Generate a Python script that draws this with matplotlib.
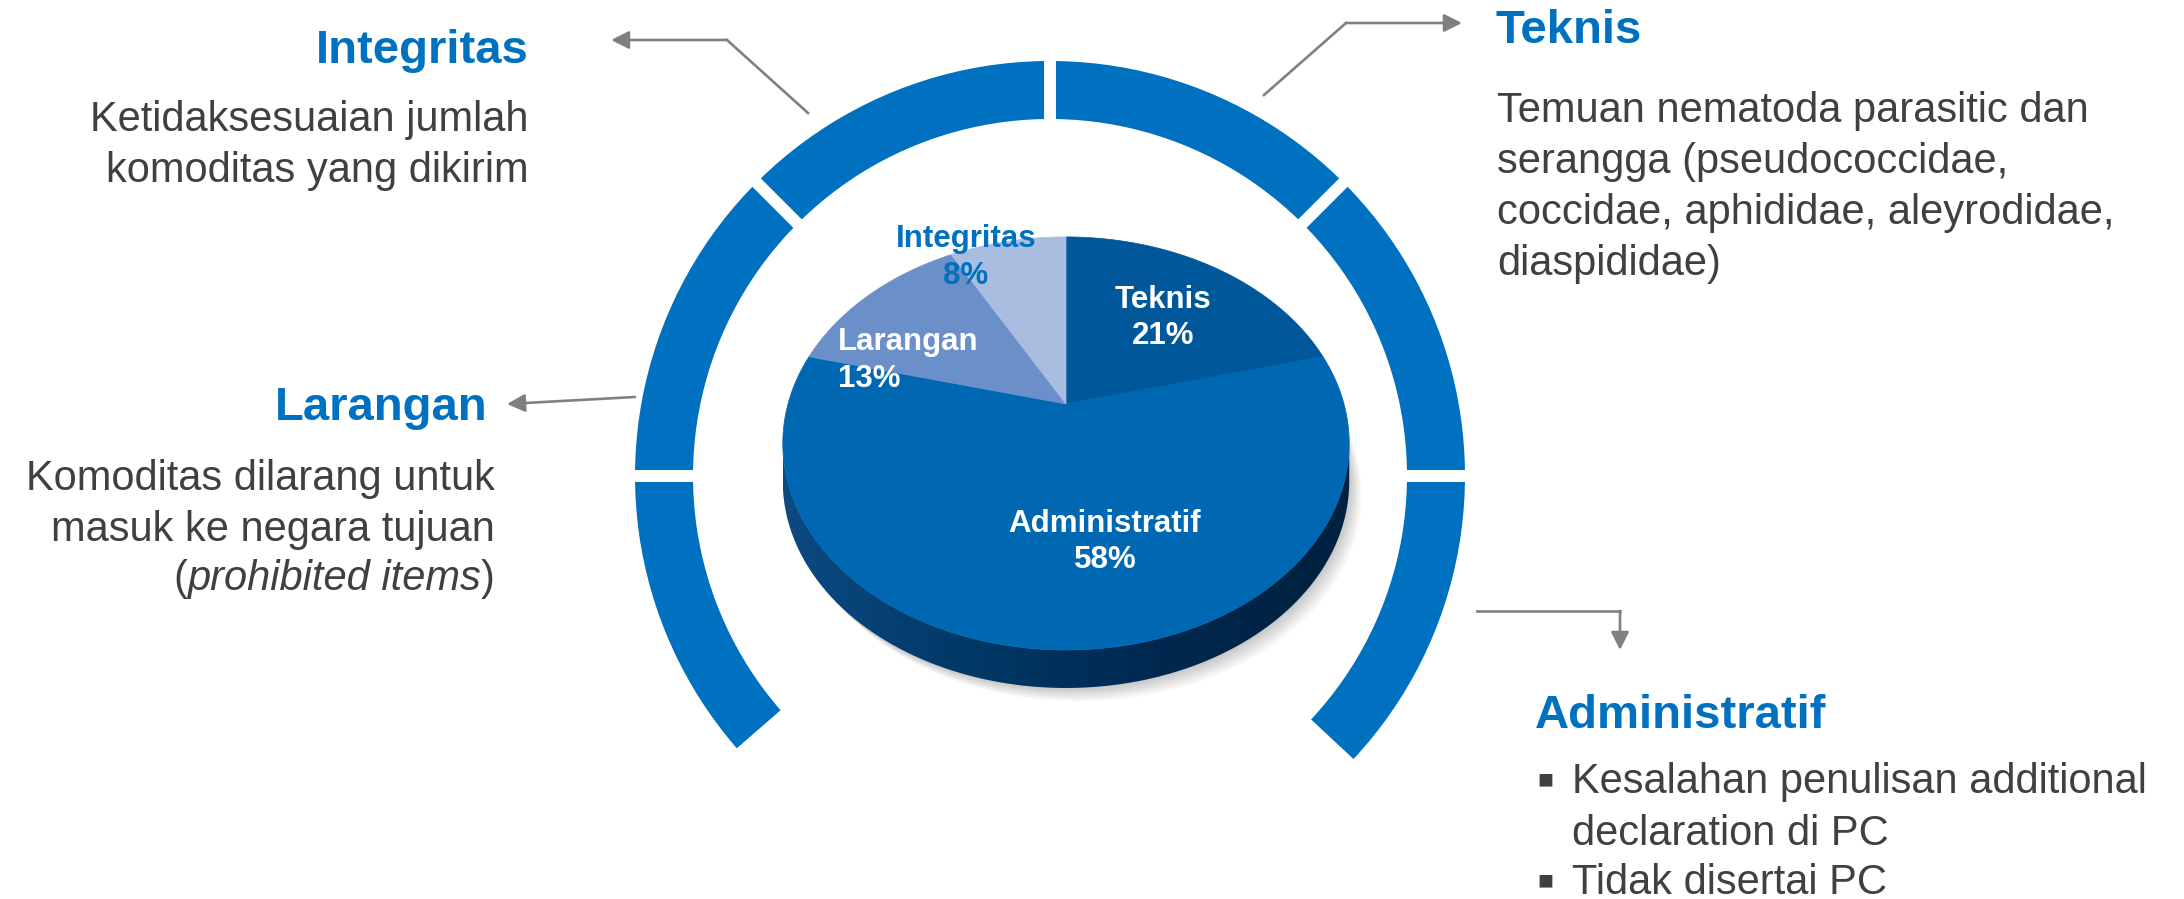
import numpy as np
import matplotlib.pyplot as plt
from matplotlib.patches import Wedge, Polygon
from matplotlib.colors import LinearSegmentedColormap

plt.rcParams['font.family'] = ['Liberation Sans', 'DejaVu Sans']

# pie data (clockwise from 12 o'clock)
categories = ['Teknis', 'Administratif', 'Larangan', 'Integritas']
shares = [21, 58, 13, 8]
slice_colors = ['#00589b', '#0067b2', '#6a8fc9', '#a9bde0']
label_colors = ['white', 'white', 'white', '#0070c0']

# side panels
titles = ['Integritas', 'Larangan', 'Teknis', 'Administratif']
integritas_text = ['Ketidaksesuaian jumlah', 'komoditas yang dikirim']
larangan_text = ['Komoditas dilarang untuk', 'masuk ke negara tujuan']
larangan_italic = 'prohibited items'
teknis_text = ['Temuan nematoda parasitic dan', 'serangga (pseudococcidae,',
               'coccidae, aphididae, aleyrodidae,', 'diaspididae)']
admin_bullets = ['Kesalahan penulisan additional', 'declaration di PC', 'Tidak disertai PC']
admin_bullet_marks = [True, False, True]

BLUE = '#0070c0'
GREY_TXT = '#404040'
ARROW = '#808080'

fig = plt.figure(figsize=(21.84, 8.99), dpi=100)
ax = fig.add_axes([0, 0, 1, 1])
ax.set_xlim(0, 2184)
ax.set_ylim(899, 0)
ax.set_autoscale_on(False)
ax.axis('off')

# ---- outer ring, cut into segments ----
rc = (1050, 476)
r_out, r_w = 415, 58
ring_from, ring_to = -43, 221          # visual angles (counter-clockwise)
ax.add_patch(Wedge(rc, r_out, -ring_to, -ring_from, width=r_w, color=BLUE, lw=0, zorder=2))
for a in [0, 45, 90, 135, 180]:
    t = np.radians(a)
    ax.plot([rc[0] + 340 * np.cos(t), rc[0] + 430 * np.cos(t)],
            [rc[1] - 340 * np.sin(t), rc[1] - 430 * np.sin(t)],
            color='white', lw=8.6, solid_capstyle='butt', zorder=3)

# ---- 3d pie ----
cx, cy = 1066, 404
A, B, k = 278, 199, 0.191
depth = 38


def proj(theta):
    th = np.radians(theta)
    u, v = np.cos(th), np.sin(th)
    d = 1 + k * v
    return cx + A * u / d, cy - B * v / d


# soft shadow
for i in range(10):
    th = np.linspace(0, 360, 200)
    x, y = proj(th)
    ax.add_patch(Polygon(np.column_stack([x + i * 1.4, y + depth + i * 1.5]),
                         closed=True, color='black', alpha=0.025, lw=0, zorder=4))

# side
th = np.linspace(191, 349, 120)
x, y = proj(th)
side = Polygon(np.column_stack([np.r_[x, x[::-1]], np.r_[y, y[::-1] + depth]]),
               closed=True, facecolor='none', edgecolor='none', zorder=5)
ax.add_patch(side)
side_cmap = LinearSegmentedColormap.from_list('side', ['#0d4a82', '#003866', '#00284f', '#00213f'])
img = ax.imshow(np.linspace(0, 1, 256)[None, :], cmap=side_cmap, aspect='auto',
                extent=(x.min(), x.max(), y.max() + depth + 2, y.min() - 2), zorder=5)
img.set_clip_path(side)

# top faces
start = 90.0
for share, col in zip(shares, slice_colors):
    sweep = 360 * share / 100
    th = np.linspace(start, start - sweep, max(int(sweep), 2) + 1)
    x, y = proj(th)
    ax.add_patch(Polygon(np.column_stack([np.r_[cx, x], np.r_[cy, y]]),
                         closed=True, facecolor=col, edgecolor=col, lw=0.5, zorder=6))
    start -= sweep

# pie labels: (x, baseline of name, baseline of pct, ha)
label_pos = [(1163, 308, 344, 'center'), (1105, 532, 568, 'center'),
             (838, 350, 387, 'left'), (966, 247, 284, 'center')]
for name, share, col, (lx, y1, y2, ha) in zip(categories, shares, label_colors, label_pos):
    ax.text(lx, y1, name, fontsize=22.5, fontweight='bold', color=col, ha=ha, va='baseline', zorder=8)
    ax.text(lx, y2, f'{share}%', fontsize=22.5, fontweight='bold', color=col, ha=ha, va='baseline', zorder=8)

# ---- titles and descriptions ----
ax.text(529, 63, titles[0], fontsize=34, fontweight='bold', color=BLUE, ha='right', va='baseline')
for yb, s in zip([131, 182], integritas_text):
    ax.text(529, yb, s, fontsize=30, color=GREY_TXT, ha='right', va='baseline')

ax.text(487, 420, titles[1], fontsize=34, fontweight='bold', color=BLUE, ha='right', va='baseline')
for yb, s in zip([490, 541], larangan_text):
    ax.text(495, yb, s, fontsize=30, color=GREY_TXT, ha='right', va='baseline')
renderer = fig.canvas.get_renderer()
xr = 495
for s, st in [(')', 'normal'), (larangan_italic, 'italic'), ('(', 'normal')]:
    t = ax.text(xr, 590, s, fontsize=30, color=GREY_TXT, ha='right', va='baseline', style=st)
    bb = t.get_window_extent(renderer)
    xr -= bb.width * 2184 / fig.bbox.width

ax.text(1495, 43, titles[2], fontsize=34, fontweight='bold', color=BLUE, ha='left', va='baseline')
for yb, s in zip([122, 173, 224, 275], teknis_text):
    ax.text(1497, yb, s, fontsize=30, color=GREY_TXT, ha='left', va='baseline')

ax.text(1535, 728, titles[3], fontsize=34, fontweight='bold', color=BLUE, ha='left', va='baseline')
for yb, s, mark in zip([793, 845, 894], admin_bullets, admin_bullet_marks):
    if mark:
        ax.text(1545, yb - 6, '\u25a0', fontsize=19, color=GREY_TXT, ha='center', va='baseline')
    ax.text(1572, yb, s, fontsize=30, color=GREY_TXT, ha='left', va='baseline')

# ---- connector arrows ----
arrow_kw = dict(arrowstyle='-|>', color=ARROW, lw=1.9, mutation_scale=27, shrinkA=0, shrinkB=0)
ax.plot([808, 727], [113, 40], color=ARROW, lw=1.9)
ax.annotate('', xy=(611, 40), xytext=(727, 40), arrowprops=arrow_kw)
ax.plot([1264, 1346], [95, 23], color=ARROW, lw=1.9)
ax.annotate('', xy=(1462, 23), xytext=(1346, 23), arrowprops=arrow_kw)
ax.annotate('', xy=(507, 404), xytext=(635, 397), arrowprops=arrow_kw)
ax.plot([1477, 1620], [611, 611], color=ARROW, lw=1.9)
ax.annotate('', xy=(1620, 650), xytext=(1620, 611), arrowprops=arrow_kw)

ax.set_xlim(0, 2184)
ax.set_ylim(899, 0)
fig.savefig('out.png', dpi=100)
